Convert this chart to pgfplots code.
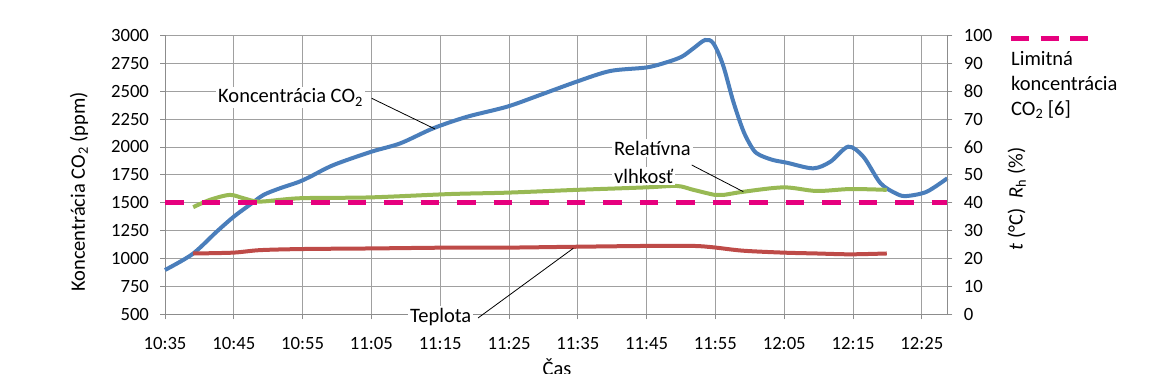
\documentclass[border=0pt]{standalone}
\usepackage{fontspec}
\setmainfont{Carlito}
\usepackage{pgfplots}
\pgfplotsset{compat=1.18}
\definecolor{co2blue}{HTML}{4A7EBB}
\definecolor{tred}{HTML}{BE4B48}
\definecolor{rhgreen}{HTML}{98B954}
\definecolor{limmag}{HTML}{E6007E}
\definecolor{gridgray}{HTML}{A0A0A0}
\definecolor{axgray}{HTML}{8C8C8C}
\newcommand{\fs}{\fontsize{18.7}{22}\selectfont}
\newcommand{\fl}{\fontsize{20.5}{24}\selectfont}
\begin{document}
\begin{tikzpicture}[x=1pt,y=1pt]
\pgfplotsset{
  common/.style={
    at={(165pt,58.7pt)}, anchor=south west, scale only axis,
    width=782.3pt, height=279pt,
    xmin=0, xmax=113.7,
    tick align=outside, major tick length=5pt,
    tick style={color=axgray, line width=0.8pt},
    axis line style={color=axgray, line width=0.8pt},
    tick label style={font=\fs, text=black},
    /pgf/number format/assume math mode=true,
    /pgf/number format/1000 sep={},
    clip=false,
  }
}
% primary axis: CO2
\begin{axis}[common,
  ymin=500, ymax=3000,
  ytick={500,750,...,3000},
  xtick={0,10,...,110},
  xticklabels={10:35,10:45,10:55,11:05,11:15,11:25,11:35,11:45,11:55,12:05,12:15,12:25},
  axis y line*=left, axis x line*=bottom,
  grid=major, major grid style={color=gridgray, line width=0.8pt},
  xticklabel style={yshift=-15pt},
  yticklabel style={xshift=-7.5pt},
]
\addplot[co2blue, line width=4pt, smooth, tension=0.5] coordinates {
(0,897) (4,1040) (7.5,1240) (10,1375) (12.3,1480) (14.3,1569) (16.7,1629)
(19.4,1685) (21.1,1733) (24.5,1838) (30,1957) (34.2,2032) (39,2167)
(43.9,2270) (49.7,2360) (54.5,2465) (59.8,2584) (64.7,2680) (70,2712)
(72.9,2758) (75.1,2808) (76.8,2883) (78.5,2958) (79.7,2928) (81.1,2734)
(82.6,2405) (84.1,2136) (85.5,1975) (86.5,1925) (88.4,1882) (90.4,1858)
(94.2,1808) (96.7,1867) (99.3,2002) (101.5,1912) (104,1674) (106.4,1578)
(107.8,1560) (110.7,1598) (113.7,1719)
};
\end{axis}
% secondary axis: t, Rh
\begin{axis}[common,
  ymin=0, ymax=100,
  ytick={0,10,...,100},
  axis y line*=right, axis x line=none,
  yticklabel style={xshift=8pt},
]
\addplot[tred, line width=4pt, smooth, tension=0.5] coordinates {
(4.1,21.8) (9.9,22.1) (13.8,23.0) (20.1,23.4) (29.8,23.6) (41.4,23.9)
(49.7,23.9) (59.3,24.2) (70,24.5) (76.8,24.5) (79.7,24.0) (84,22.8)
(89.9,22.1) (94.7,21.8) (99.6,21.5) (104.9,21.8)
};
\addplot[rhgreen, line width=4pt, smooth, tension=0.5] coordinates {
(4.1,38.4) (6.5,41) (9.4,42.8) (11.4,41.6) (13.8,40.4) (19.6,41.6)
(29.8,41.9) (41.4,43.1) (49.7,43.6) (59.8,44.6) (70,45.5) (74.4,46.0)
(76.8,44.6) (79.9,42.8) (81.2,42.8) (84,43.9) (89.9,45.5) (94.7,44.2)
(99.6,44.9) (104.9,44.6)
};
\addplot[limmag, line width=5.3pt, dash pattern=on 18.5pt off 18pt] coordinates {
(0,40) (113.7,40)
};
\end{axis}
% axis titles
\node[font=\fl, rotate=90] at (79,181) {Koncentrácia CO\textsubscript{2} (ppm)};
\node[font=\fl, rotate=90] at (1016.7,174) {\textit{t} (°C)\hspace{0.5em}\textit{R}\textsubscript{h} (\%)};
\node[font=\fl, anchor=base] at (557,-2) {Čas};
% legend
\draw[limmag, line width=5.3pt, dash pattern=on 18pt off 11.5pt] (1011,334.7) -- (1088,334.7);
\node[font=\fl, anchor=base west, inner sep=0pt] at (1011,307.3) {Limitná};
\node[font=\fl, anchor=base west, inner sep=0pt] at (1011,283) {koncentrácia};
\node[font=\fl, anchor=base west, inner sep=0pt] at (1011,258) {CO\textsubscript{2} [6]};
% annotations
\draw[black, line width=0.8pt] (371.7,274.7) -- (435,244);
\draw[black, line width=0.8pt] (691.7,208) -- (743.3,181.3);
\draw[black, line width=0.8pt] (478,55) -- (573.3,124.7);
\node[font=\fl, anchor=base west, fill=white, inner sep=2pt] at (216,270) {Koncentrácia CO\textsubscript{2}};
\node[font=\fl, anchor=base west, fill=white, inner sep=2pt] at (612,218) {Relatívna};
\node[font=\fl, anchor=base west, fill=white, inner sep=2pt] at (612,190) {vlhkosť};
\node[font=\fl, anchor=base west, fill=white, inner sep=2pt] at (408,51) {Teplota};
\pgfresetboundingbox
\path[use as bounding box] (0,0) rectangle (1154,373);
\end{tikzpicture}
\end{document}
